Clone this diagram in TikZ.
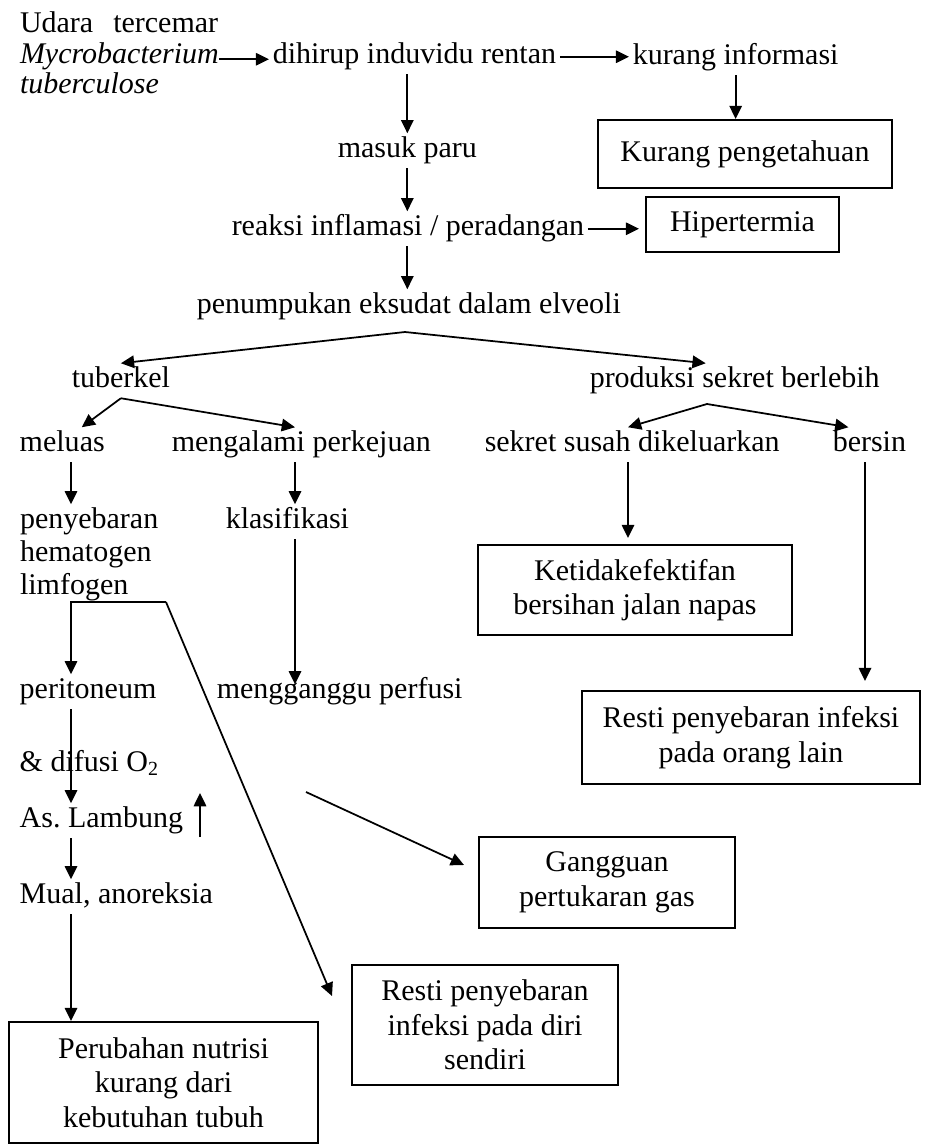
\documentclass[tikz,border=0pt]{standalone}
\usepackage{fontspec}
\setmainfont{Liberation Serif}
\usetikzlibrary{arrows.meta,calc}
\tikzset{
  every node/.style={font=\fontsize{12pt}{13.8pt}\selectfont},
  txt/.style={anchor=base west,inner sep=0pt,outer sep=1.5pt,text height=8pt,text depth=3pt},
  mtxt/.style={anchor=north west,inner sep=0pt,outer sep=0pt,align=left},
  box/.style={draw,line width=0.8pt,inner sep=0pt,align=center},
  arr/.style={line width=0.7pt,-{Triangle[length=5.3pt,width=5pt]}},
  ln/.style={line width=0.7pt}
}
\begin{document}
\begin{tikzpicture}[x=0.4pt,y=-0.4pt]
\useasboundingbox (0,0) rectangle (925,1146);
% text nodes
\node[mtxt,font=\fontsize{12pt}{12.2pt}\selectfont] (udara) at (20,12) {Udara\hspace{8pt}tercemar\\\textit{Mycrobacterium}\\\textit{tuberculose}};
\node[txt] (dihirup) at (269,63) {dihirup induvidu rentan};
\node[txt] (kurang) at (629,64) {kurang informasi};
\node[txt] (masuk) at (334,157) {masuk paru};
\node[txt] (reaksi) at (228,235) {reaksi inflamasi / peradangan};
\node[txt] (penumpukan) at (193,313) {penumpukan eksudat dalam elveoli};
\node[txt] (tuberkel) at (68,387) {tuberkel};
\node[txt] (produksi) at (586,387) {produksi sekret berlebih};
\node[txt] (meluas) at (16,451) {meluas};
\node[txt] (mengalami) at (168,451) {mengalami perkejuan};
\node[txt] (sekret) at (481,451) {sekret susah dikeluarkan};
\node[txt] (bersin) at (829,451) {bersin};
\node[mtxt,font=\fontsize{12pt}{13.2pt}\selectfont] (penyeb) at (20,508) {penyebaran\\hematogen\\limfogen};
\node[txt] (klas) at (222,528) {klasifikasi};
\node[txt] (peri) at (16,698) {peritoneum};
\node[txt] (mengg) at (213,698) {mengganggu perfusi};
\node[txt] (difusi) at (16,771) {\& difusi O\textsubscript{2}};
\node[txt] (asl) at (16,827) {As.\ Lambung};
\node[txt] (mual) at (16,903) {Mual, anoreksia};
% boxes
\node[box,minimum width=117.6pt,minimum height=27.2pt] (kp) at (745,154) {Kurang pengetahuan};
\node[box,minimum width=77.2pt,minimum height=22pt] (hiper) at (742.5,224.5) {Hipertermia};
\node[box,minimum width=125.6pt,minimum height=36pt] (ketid) at (635,590) {Ketidakefektifan\\bersihan jalan napas};
\node[box,minimum width=135.2pt,minimum height=37.2pt] (orang) at (751,737.5) {Resti penyebaran infeksi\\pada orang lain};
\node[box,minimum width=102.4pt,minimum height=36.4pt] (gang) at (607,882.5) {Gangguan\\pertukaran gas};
\node[box,minimum width=106.4pt,minimum height=48pt] (diri) at (485,1025) {Resti penyebaran\\infeksi pada diri\\sendiri};
\node[box,minimum width=123.6pt,minimum height=48.4pt] (perub) at (163.5,1082.5) {Perubahan nutrisi\\kurang dari\\kebutuhan tubuh};
% helper coordinates
\coordinate (lc) at (71,0);
\coordinate (mc) at (295,0);
\coordinate (sk) at (628,0);
\coordinate (bc) at (865,0);
\coordinate (pj) at (405,332);
\coordinate (prj) at (707,404);
\coordinate (lj) at (166,602);
\coordinate (ua) at (200,837);
\coordinate (g0) at (306,792);
% connectors
\draw[arr] ([yshift=-1pt]dihirup.west -| udara.east) -- ([yshift=-1pt]dihirup.west);
\draw[arr] (dihirup.east) -- (kurang.west |- dihirup.east);
\draw[arr] (kurang.south) -- (kp.north -| kurang.south);
\draw[arr] (masuk.north |- dihirup.south) -- (masuk.north);
\draw[arr] (masuk.south) -- (reaksi.north -| masuk.south);
\draw[arr,shorten >=2.4pt] (reaksi.east) -- (hiper.west |- reaksi.east);
\draw[arr] (reaksi.south -| masuk.south) -- (penumpukan.north -| masuk.south);
\draw[arr] (pj) -- (tuberkel.north);
\draw[arr] (pj) -- ([xshift=-11.6pt]produksi.north);
\draw[arr] (tuberkel.south) -- ([xshift=7.8pt]meluas.north);
\draw[arr] (tuberkel.south) -- (mengalami.north -| mc);
\draw[arr] (prj) -- (sekret.north -| sk);
\draw[arr] (prj) -- ([xshift=-8.4pt]bersin.north);
\draw[arr,shorten >=1.5pt] (meluas.south -| lc) -- (penyeb.north -| lc);
\draw[arr] (mengalami.south -| mc) -- (klas.north -| mc);
\draw[arr,shorten >=-4pt] (klas.south -| mc) -- (mengg.north -| mc);
\draw[arr,shorten >=2.4pt] (sekret.south -| sk) -- (ketid.north -| sk);
\draw[arr,shorten >=3.6pt] (bersin.south -| bc) -- (orang.north -| bc);
\draw[arr] (lj) -- (lj -| lc) -- (peri.north -| lc);
\draw[arr] (lj) -- ($(diri.north west)+(-19,32)$);
\draw[arr] (peri.south -| lc) -- (asl.north -| lc);
\draw[arr] (ua) -- ++(0,-44);
\draw[arr] (asl.south -| lc) -- (mual.north -| lc);
\draw[arr] (mual.south -| lc) -- (perub.north -| lc);
\draw[arr] (g0) -- ($(gang.north west)+(-14,29)$);
\end{tikzpicture}
\end{document}
